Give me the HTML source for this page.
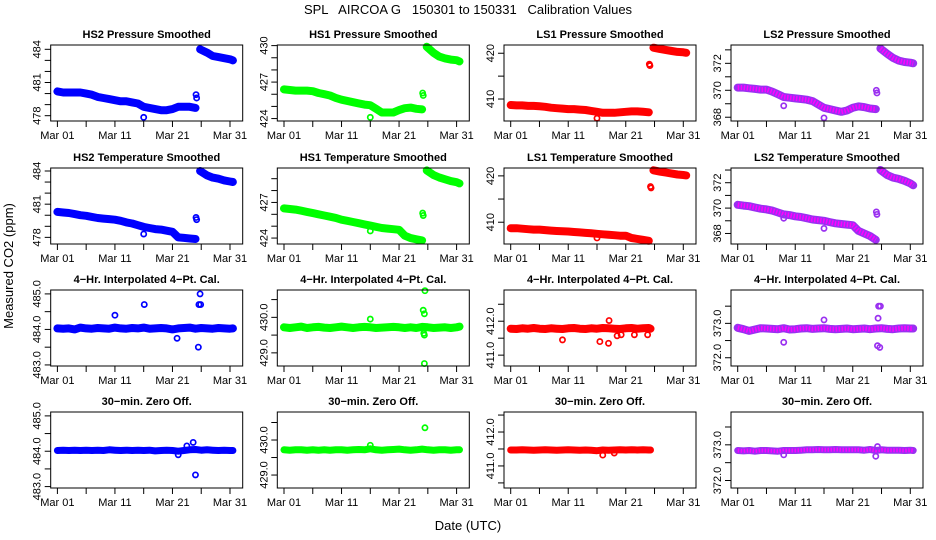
<!DOCTYPE html>
<html><head><meta charset="utf-8"><style>
html,body{margin:0;padding:0;background:#fff;}
svg{display:block;font-family:"Liberation Sans",sans-serif;}
</style></head><body>
<svg id="chart" width="936" height="540" viewBox="0 0 936 540">
<rect width="936" height="540" fill="#fff"/>
<text x="468" y="14" text-anchor="middle" font-size="13" style="white-space:pre" xml:space="preserve">SPL   AIRCOA G   150301 to 150331   Calibration Values</text>
<text x="468" y="530" text-anchor="middle" font-size="13">Date (UTC)</text>
<text transform="translate(13,266) rotate(-90)" text-anchor="middle" font-size="13">Measured CO2 (ppm)</text>
<g id="panels"></g>
</svg>
<script>
// ---- data (day 0 = Mar 01) ----
const daysLow = [0,1,2,3,4,5,6,7,8,9,10,11,12,13,14,15,16,17,18,19,20,21,22,23,24];
const daysHigh = [24.8,26,27,28,29,30,30.5];
const daysFull = [0,1,2,3,4,5,6,7,8,9,10,11,12,13,14,15,16,17,18,19,20,21,22,23,24,25,26,27,28,29,30,30.5];
const daysLS1 = [0,1,2,3,4,5,6,7,8,9,10,11,12,13,14,15,16,17,18,19,20,21,22,23,24,24.3];
const xTickDays = [0,5,10,15,20,25,30];
const xTickLabels = ["Mar 01","","Mar 11","","Mar 21","","Mar 31"];

const hs2pLow = [480.2,480.1,480.1,480.1,480.1,480.0,479.9,479.7,479.6,479.5,479.4,479.3,479.3,479.2,479.1,478.8,478.7,478.6,478.5,478.5,478.6,478.8,478.8,478.8,478.7];
const hs2pHigh = [484.0,483.7,483.4,483.3,483.2,483.1,483.0];
const hs2pOut = [[24.1,479.9],[24.2,479.6],[15,477.85]];

const hs1pLow = [426.4,426.35,426.3,426.3,426.3,426.25,426.1,426.0,425.9,425.7,425.55,425.45,425.35,425.25,425.15,425.1,424.8,424.5,424.5,424.5,424.7,424.85,424.9,424.8,424.75];
const hs1pHigh = [429.9,429.4,429.1,428.95,428.85,428.8,428.7];
const hs1pOut = [[24.1,426.1],[24.2,425.9],[15,424.1]];

const ls1pLow = [408.7,408.6,408.6,408.5,408.5,408.4,408.3,408.1,408.0,407.9,407.8,407.8,407.7,407.6,407.4,407.2,407.0,407.0,407.0,407.1,407.2,407.3,407.3,407.2,407.1];
const ls1pHigh = [421.2,420.9,420.7,420.5,420.3,420.2,420.1];
const ls1pOut = [[24.1,417.6],[24.2,417.3],[15,405.8]];

const ls2pLow = [370.2,370.2,370.15,370.1,370.05,370.05,369.9,369.7,369.5,369.45,369.4,369.35,369.3,369.2,368.95,368.7,368.6,368.5,368.4,368.5,368.7,368.8,368.75,368.65,368.6];
const ls2pHigh = [373.1,372.7,372.4,372.2,372.1,372.05,372.0];
const ls2pOut = [[24.1,370.0],[24.2,369.8],[8,368.85],[15,367.95]];

const hs2tLow = [480.3,480.25,480.2,480.1,480.0,479.95,479.85,479.75,479.7,479.65,479.6,479.5,479.35,479.25,479.1,478.95,478.85,478.75,478.7,478.6,478.5,478.0,477.95,477.9,477.85];
const hs2tHigh = [484.0,483.6,483.4,483.3,483.15,483.05,483.0];
const hs2tOut = [[24.1,479.8],[24.2,479.6],[15,478.3]];

const hs1tLow = [426.5,426.45,426.4,426.3,426.2,426.1,426.0,425.9,425.8,425.7,425.55,425.45,425.35,425.25,425.15,425.05,424.95,424.85,424.8,424.75,424.7,424.2,424.0,423.9,423.8];
const hs1tHigh = [429.7,429.3,429.1,428.95,428.8,428.7,428.6];
const hs1tOut = [[24.1,426.1],[24.2,425.9],[15,424.6]];

const ls1tLow = [408.7,408.7,408.6,408.5,408.4,408.4,408.3,408.2,408.1,408.05,408.0,407.9,407.8,407.7,407.6,407.5,407.4,407.3,407.2,407.1,407.1,406.6,406.4,406.2,406.0];
const ls1tHigh = [421.2,420.9,420.7,420.5,420.3,420.2,420.1];
const ls1tOut = [[24.3,417.7],[24.4,417.4],[15,406.6]];

const ls2tLow = [370.26,370.2,370.15,370.05,369.95,369.9,369.8,369.65,369.5,369.45,369.35,369.3,369.2,369.1,369.05,369.0,368.9,368.8,368.75,368.7,368.65,368.2,368.0,367.8,367.5];
const ls2tHigh = [373.0,372.6,372.4,372.3,372.15,371.95,371.8];
const ls2tOut = [[24.1,369.7],[24.2,369.5],[8,369.2],[15,368.4]];

const hs2iVals = [484.03,484.02,484.03,484.0,484.05,484.03,484.02,484.04,484.03,484.02,484.05,484.03,484.02,484.04,484.03,484.05,484.02,484.03,484.04,484.03,484.0,484.03,484.04,484.05,484.02,484.04,484.03,484.02,484.04,484.03,484.02,484.03];
const hs2iOut = [[10,484.4],[15.1,484.7],[20.8,483.75],[24.5,483.5],[24.6,484.7],[24.9,484.7],[24.8,485.0]];

const hs1iVals = [429.72,429.7,429.72,429.74,429.7,429.72,429.73,429.71,429.7,429.72,429.74,429.72,429.7,429.72,429.73,429.72,429.7,429.71,429.72,429.73,429.72,429.7,429.72,429.7,429.73,429.72,429.7,429.71,429.72,429.7,429.72,429.74];
const hs1iOut = [[15,429.95],[24.2,430.2],[24.4,430.1],[24.3,429.55],[24.4,429.5],[24.5,430.75],[24.4,428.7]];

const ls1iVals = [411.78,411.77,411.79,411.78,411.8,411.78,411.77,411.79,411.78,411.77,411.79,411.8,411.78,411.77,411.79,411.78,411.8,411.79,411.78,411.77,411.79,411.8,411.78,411.79,411.8,411.78];
const ls1iOut = [[9,411.45],[15.5,411.4],[17,411.35],[18.5,411.57],[19.2,411.6],[21.5,411.6],[23.8,411.6],[17.1,412.02]];

const ls2iVals = [372.87,372.83,372.78,372.82,372.86,372.85,372.84,372.83,372.86,372.82,372.83,372.85,372.86,372.84,372.85,372.86,372.84,372.83,372.84,372.85,372.83,372.84,372.85,372.83,372.85,372.86,372.84,372.83,372.85,372.86,372.85,372.85];
const ls2iOut = [[8,372.45],[15,373.1],[24.5,373.5],[24.8,373.5],[24.4,373.15],[24.3,372.35],[24.7,372.3]];

const hs2zVals = [484.02,484.03,484.02,484.03,484.02,484.03,484.02,484.03,484.02,484.04,484.03,484.02,484.03,484.02,484.03,484.02,484.03,484.01,484.02,484.03,484.02,484.0,484.02,484.04,484.05,484.03,484.04,484.03,484.02,484.03,484.02,484.02];
const hs2zOut = [[21,483.9],[22.5,484.15],[23.6,484.25],[24,483.33]];

const hs1zVals = [429.72,429.71,429.72,429.72,429.71,429.72,429.71,429.72,429.71,429.72,429.72,429.71,429.72,429.73,429.72,429.75,429.72,429.71,429.72,429.73,429.74,429.72,429.71,429.72,429.74,429.72,429.71,429.72,429.72,429.71,429.72,429.72];
const hs1zOut = [[15,429.85],[24.5,430.35]];

const ls1zVals = [411.47,411.47,411.48,411.47,411.46,411.47,411.48,411.47,411.46,411.47,411.48,411.47,411.46,411.47,411.46,411.45,411.47,411.46,411.47,411.48,411.47,411.48,411.47,411.48,411.47,411.47];
const ls1zOut = [[16,411.32],[18,411.38]];

const ls2zVals = [372.84,372.83,372.84,372.82,372.84,372.84,372.83,372.82,372.84,372.84,372.84,372.85,372.86,372.86,372.87,372.86,372.86,372.87,372.86,372.86,372.86,372.86,372.85,372.87,372.84,372.86,372.85,372.85,372.85,372.84,372.85,372.84];
const ls2zOut = [[8,372.72],[24,372.68],[24.3,372.95]];

// ---- layout ----
const colLeft = [50.7,277.3,504,731];
const rowTop = [45,168,290,412];
const PW = 192, PH = 76, X0 = 6.7, XS = 5.753;
const BLUE = "#0000ff", GREEN = "#00ff00", RED = "#ff0000", PURP = "#9a30f0";

const panels = [
 {c:0,r:0,t:"HS2 Pressure Smoothed",dom:[477.52,484.39],ticks:[478,479,480,481,482,483,484],labs:[478,481,484],dec:0,col:BLUE,sw:8,segs:[[daysLow,hs2pLow],[daysHigh,hs2pHigh]],out:hs2pOut},
 {c:1,r:0,t:"HS1 Pressure Smoothed",dom:[423.8,430.05],ticks:[424,425,426,427,428,429,430],labs:[424,427,430],dec:0,col:GREEN,sw:8,segs:[[daysLow,hs1pLow],[daysHigh,hs1pHigh]],out:hs1pOut},
 {c:2,r:0,t:"LS1 Pressure Smoothed",dom:[405.2,421.8],ticks:[410,415,420],labs:[410,420],dec:0,col:RED,sw:8,segs:[[daysLow,ls1pLow],[daysHigh,ls1pHigh]],out:ls1pOut},
 {c:3,r:0,t:"LS2 Pressure Smoothed",dom:[367.72,373.36],ticks:[368,369,370,371,372,373],labs:[368,370,372],dec:0,col:PURP,sw:8,segs:[[daysLow,ls2pLow],[daysHigh,ls2pHigh]],out:ls2pOut},
 {c:0,r:1,t:"HS2 Temperature Smoothed",dom:[477.4,484.27],ticks:[478,479,480,481,482,483,484],labs:[478,481,484],dec:0,col:BLUE,sw:8,segs:[[daysLow,hs2tLow],[daysHigh,hs2tHigh]],out:hs2tOut},
 {c:1,r:1,t:"HS1 Temperature Smoothed",dom:[423.5,429.9],ticks:[424,425,426,427,428,429],labs:[424,427],dec:0,col:GREEN,sw:8,segs:[[daysLow,hs1tLow],[daysHigh,hs1tHigh]],out:hs1tOut},
 {c:2,r:1,t:"LS1 Temperature Smoothed",dom:[405.3,421.7],ticks:[410,415,420],labs:[410,420],dec:0,col:RED,sw:8,segs:[[daysLow,ls1tLow],[daysHigh,ls1tHigh]],out:ls1tOut},
 {c:3,r:1,t:"LS2 Temperature Smoothed",dom:[367.17,373.16],ticks:[368,369,370,371,372,373],labs:[368,370,372],dec:0,col:PURP,sw:8,segs:[[daysLow,ls2tLow],[daysHigh,ls2tHigh]],out:ls2tOut},
 {c:0,r:2,t:"4\u2212Hr. Interpolated 4\u2212Pt. Cal.",dom:[482.97,485.11],ticks:[483,483.5,484,484.5,485],labs:[483,484,485],dec:1,col:BLUE,sw:8,segs:[[daysFull,hs2iVals]],out:hs2iOut},
 {c:1,r:2,t:"4\u2212Hr. Interpolated 4\u2212Pt. Cal.",dom:[428.63,430.77],ticks:[429,429.5,430,430.5],labs:[429,430],dec:1,col:GREEN,sw:8,segs:[[daysFull,hs1iVals]],out:hs1iOut},
 {c:2,r:2,t:"4\u2212Hr. Interpolated 4\u2212Pt. Cal.",dom:[410.68,412.92],ticks:[411,411.5,412,412.5],labs:[411,412],dec:1,col:RED,sw:8,segs:[[daysLS1,ls1iVals]],out:ls1iOut},
 {c:3,r:2,t:"4\u2212Hr. Interpolated 4\u2212Pt. Cal.",dom:[371.76,373.97],ticks:[372,372.5,373,373.5],labs:[372,373],dec:1,col:PURP,sw:8,segs:[[daysFull,ls2iVals]],out:ls2iOut},
 {c:0,r:3,t:"30\u2212min. Zero Off.",dom:[482.96,485.11],ticks:[483,483.5,484,484.5,485],labs:[483,484,485],dec:1,col:BLUE,sw:7,segs:[[daysFull,hs2zVals]],out:hs2zOut},
 {c:1,r:3,t:"30\u2212min. Zero Off.",dom:[428.63,430.8],ticks:[429,429.5,430,430.5],labs:[429,430],dec:1,col:GREEN,sw:7,segs:[[daysFull,hs1zVals]],out:hs1zOut},
 {c:2,r:3,t:"30\u2212min. Zero Off.",dom:[410.35,412.59],ticks:[410.5,411,411.5,412,412.5],labs:[411,412],dec:1,col:RED,sw:7,segs:[[daysLS1,ls1zVals]],out:ls1zOut},
 {c:3,r:3,t:"30\u2212min. Zero Off.",dom:[371.79,373.92],ticks:[372,372.5,373,373.5],labs:[372,373],dec:1,col:PURP,sw:7,segs:[[daysFull,ls2zVals]],out:ls2zOut}
];

const NS = "http://www.w3.org/2000/svg";
const root = document.getElementById("panels");
function mk(tag, attrs, parent){ const e=document.createElementNS(NS,tag); for(const k in attrs) e.setAttribute(k,attrs[k]); parent.appendChild(e); return e; }

panels.forEach(function(p, i){
  const L = colLeft[p.c], T = rowTop[p.r];
  const xs = d => L + X0 + d*XS;
  const ys = v => T + PH - (v - p.dom[0])/(p.dom[1]-p.dom[0])*PH;
  const g = mk("g", {}, root);
  
  
  const title = mk("text", {x: L+PW/2, y: T-7, "text-anchor":"middle", "font-size":"11", "font-weight":"bold"}, g);
  title.textContent = p.t;
  
  
  p.segs.forEach(function(s){
    const pts = s[0].map((d,k)=> xs(d).toFixed(1)+","+ys(s[1][k]).toFixed(1)).join(" ");
    const pl = mk("polyline", {points: pts, fill:"none", stroke:p.col, "stroke-width":p.sw, "stroke-linejoin":"round", "stroke-linecap":"round"}, g);
    
    
    if (p.col === PURP) {
      const pl2 = mk("polyline", {points: pts, fill:"none", stroke:"#ff00ff", "stroke-width":p.sw-3, "stroke-dasharray":"1.5 1.5", "stroke-linejoin":"round"}, g);
      
      
    }
  });
  p.out.forEach(function(o){
    const c = mk("circle", {cx: xs(o[0]), cy: ys(o[1]), r: 2.6, fill:"none", stroke: p.col, "stroke-width":1.7}, g);
    
    
  });
  const box = mk("rect", {x:L, y:T, width:PW, height:PH, fill:"none", stroke:"#000", "stroke-width":1}, g);
  
  
  xTickDays.forEach(function(d,k){
    const x = xs(d);
    const tk = mk("line", {x1:x, x2:x, y1:T+PH, y2:T+PH+6, stroke:"#000"}, g);
    
    
    if (xTickLabels[k]) {
      const tl = mk("text", {x:x, y:T+PH+18, "text-anchor":"middle", "font-size":"11"}, g);
      tl.textContent = xTickLabels[k];
      
      
    }
  });
  p.ticks.forEach(function(v){
    const y = ys(v);
    const tk = mk("line", {x1:L-6, x2:L, y1:y, y2:y, stroke:"#000"}, g);
    
    
  });
  p.labs.forEach(function(v){
    const y = ys(v);
    const tl = mk("text", {transform:"translate("+(L-10)+","+y.toFixed(1)+") rotate(-90)", "text-anchor":"middle", "font-size":"11"}, g);
    tl.textContent = v.toFixed(p.dec);
    
    
  });
});
</script>
</body></html>
